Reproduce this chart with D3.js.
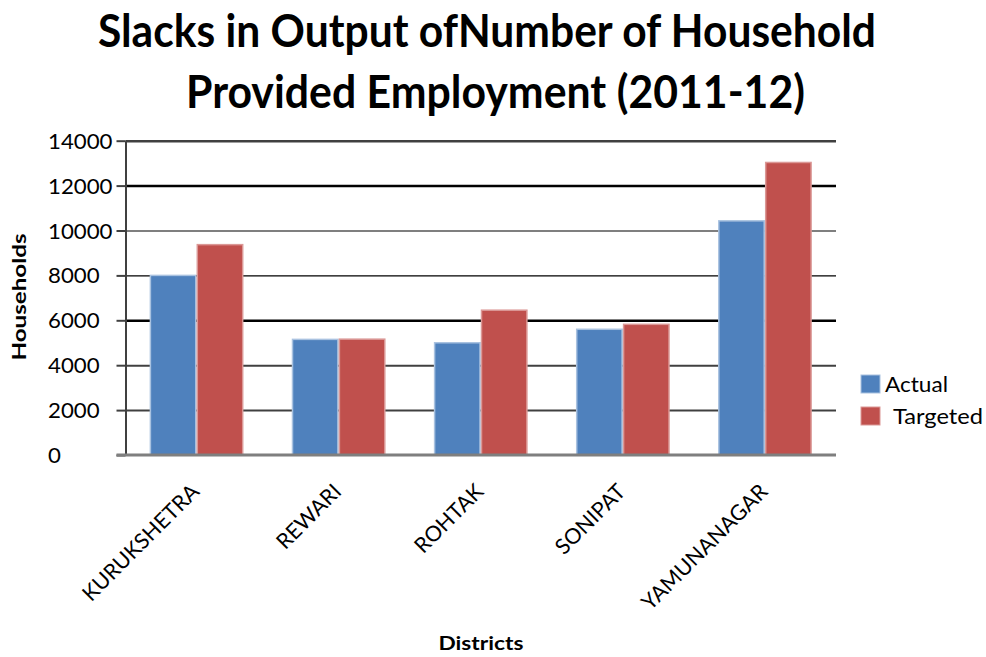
<!DOCTYPE html>
<html>
<head>
<meta charset="utf-8">
<script src="https://cdn.jsdelivr.net/npm/d3@7"></script>
<style>
  html, body { margin: 0; padding: 0; background: #fff; }
  svg { display: block; }
  text { font-family: Lato, "Open Sans", "DejaVu Sans", sans-serif; fill: #000; }
</style>
</head>
<body>
<svg id="chart" width="986" height="657"></svg>
<script>
// Households provided employment, 2011-12
const districts = ["KURUKSHETRA", "REWARI", "ROHTAK", "SONIPAT", "YAMUNANAGAR"];
const actual    = [8000, 5150, 5000, 5600, 10430];
const targeted  = [9370, 5160, 6450, 5820, 13030];
const seriesNames = ["Actual", "Targeted"];
const yTicks = [0, 2000, 4000, 6000, 8000, 10000, 12000, 14000];
const titleLines = ["Slacks in Output ofNumber of Household", "Provided Employment (2011-12)"];
const yTitle = "Households";
const xTitle = "Districts";

const colors = { Actual: "#4F81BD", Targeted: "#C0504D" };
const edges  = { Actual: "#A9C2E0", Targeted: "#DB9896" };

const svg = d3.select("#chart");
const plot = { left: 125.5, right: 836, top: 140.7, bottom: 455 };

const x = d3.scaleBand()
  .domain(districts)
  .range([plot.left, plot.right])
  .paddingInner(0.34)
  .paddingOuter(0.17);

const xs = d3.scaleBand()
  .domain(seriesNames)
  .range([0, x.bandwidth()])
  .padding(0);

const y = d3.scaleLinear()
  .domain([0, 14000])
  .range([plot.bottom, plot.top]);

// Title
svg.append("g").selectAll("text")
  .data([
    { t: titleLines[0], x: 98,  y: 47,  len: 778 },
    { t: titleLines[1], x: 186, y: 108, len: 619 }
  ])
  .join("text")
  .attr("x", d => d.x)
  .attr("y", d => d.y)
  .attr("textLength", d => d.len)
  .attr("lengthAdjust", "spacingAndGlyphs")
  .style("font-size", "45px")
  .style("font-weight", "bold")
  .text(d => d.t);

// Horizontal gridlines
const gridStyle = {
  14000: { w: 2.5, c: "#404040" },
  12000: { w: 2.5, c: "#000" },
  10000: { w: 1.2, c: "#000" },
  8000:  { w: 1.2, c: "#000" },
  6000:  { w: 2.5, c: "#000" },
  4000:  { w: 2,   c: "#404040" },
  2000:  { w: 2,   c: "#404040" }
};
svg.append("g")
  .attr("transform", `translate(${plot.left},0)`)
  .call(d3.axisLeft(y).tickValues(yTicks.filter(v => v > 0))
    .tickSize(-(plot.right - plot.left)).tickFormat(""))
  .call(g => g.select(".domain").remove())
  .call(g => g.selectAll(".tick line")
    .attr("stroke", d => gridStyle[d].c)
    .attr("stroke-width", d => gridStyle[d].w));

// Bars
const groups = svg.append("g").selectAll("g")
  .data(districts.map((d, i) => ({ district: d, values: [
    { key: "Actual", value: actual[i] },
    { key: "Targeted", value: targeted[i] }
  ] })))
  .join("g")
  .attr("transform", d => `translate(${x(d.district)},0)`);

groups.selectAll("rect")
  .data(d => d.values)
  .join("rect")
  .attr("x", d => xs(d.key) + 0.75)
  .attr("y", d => y(d.value))
  .attr("width", xs.bandwidth() - 1.5)
  .attr("height", d => y(0) - y(d.value))
  .attr("fill", d => colors[d.key])
  .attr("stroke", d => edges[d.key])
  .attr("stroke-width", 1.5);

// Y axis with outer tick marks and left-aligned labels
const yAxis = svg.append("g")
  .attr("transform", `translate(${plot.left},0)`)
  .call(d3.axisLeft(y).tickValues(yTicks).tickSizeInner(9).tickSizeOuter(0)
    .tickFormat(d3.format("d")));
yAxis.select(".domain").attr("stroke", "#404040").attr("stroke-width", 2);
yAxis.selectAll(".tick line").attr("stroke", "#404040").attr("stroke-width", 2);
yAxis.selectAll(".tick text")
  .attr("x", 48 - plot.left)
  .attr("text-anchor", "start")
  .attr("dy", "0.36em")
  .attr("textLength", d => String(d).length * 12.9)
  .attr("lengthAdjust", "spacingAndGlyphs")
  .style("font-size", "21px")
  .style("font-family", "Lato, 'Open Sans', sans-serif")
  .attr("fill", "#000");

// X axis baseline and rotated category labels
const xAxis = svg.append("g")
  .attr("transform", `translate(0,${plot.bottom})`)
  .call(d3.axisBottom(x).tickSize(0).tickSizeOuter(0));
xAxis.select(".domain").remove();
svg.append("line")
  .attr("x1", plot.left - 9).attr("x2", plot.right)
  .attr("y1", y(0)).attr("y2", y(0))
  .attr("stroke", "#7f7f7f").attr("stroke-width", 3);
xAxis.selectAll(".tick text")
  .attr("text-anchor", "end")
  .attr("y", 0).attr("dy", 0)
  .attr("transform", "translate(4,38) rotate(-45)")
  .style("font-size", "21.5px")
  .style("font-family", "Lato, 'Open Sans', sans-serif")
  .attr("fill", "#000");

// Axis titles
svg.append("text")
  .attr("transform", "translate(26,297) rotate(-90)")
  .attr("text-anchor", "middle")
  .attr("textLength", 127)
  .attr("lengthAdjust", "spacingAndGlyphs")
  .style("font-size", "19px")
  .style("font-weight", "bold")
  .text(yTitle);

svg.append("text")
  .attr("x", 481).attr("y", 650)
  .attr("text-anchor", "middle")
  .attr("textLength", 85)
  .attr("lengthAdjust", "spacingAndGlyphs")
  .style("font-size", "18px")
  .style("font-weight", "bold")
  .text(xTitle);

// Legend
const legend = svg.append("g").selectAll("g")
  .data(seriesNames)
  .join("g")
  .attr("transform", (d, i) => `translate(861,${375 + i * 32})`);
legend.append("rect")
  .attr("width", 19).attr("height", 18)
  .attr("fill", d => colors[d])
  .attr("stroke", d => edges[d]).attr("stroke-width", 1);
legend.append("text")
  .attr("x", (d, i) => i === 0 ? 24 : 32)
  .attr("y", 17)
  .attr("textLength", (d, i) => i === 0 ? 63 : 90)
  .attr("lengthAdjust", "spacingAndGlyphs")
  .style("font-size", "21px")
  .text(d => d);
</script>
</body>
</html>
